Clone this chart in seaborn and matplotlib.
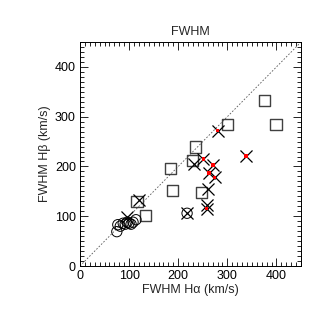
import numpy as np
import pandas as pd
import matplotlib
matplotlib.use("Agg")
import matplotlib.pyplot as plt
from matplotlib.ticker import MultipleLocator
import seaborn as sns

# Dữ liệu (km/s)
sq_ha = [375, 300, 399, 235, 229, 185, 188, 247, 116, 133]
sq_hb = [332, 285, 284, 239, 212, 196, 151, 148, 129, 101]

circ_ha = [75, 77, 82, 88, 92, 96, 100, 104, 108, 114, 218]
circ_hb = [69, 83, 80, 86, 84, 88, 86, 84, 88, 93, 106]

x_ha = [121, 233, 261, 258, 95, 218]
x_hb = [133, 205, 154, 123, 98, 106]

red_ha = [280, 251, 271, 263, 274, 338, 258]
red_hb = [272, 215, 203, 187, 178, 221, 115]

sns.set_style("white")
plt.rcParams['font.family'] = ['Liberation Sans', 'DejaVu Sans']

fig = plt.figure(figsize=(3.27, 3.27), dpi=100)
ax = fig.add_axes([0.2446, 0.1865, 0.676, 0.685])

# đường chéo 1:1
ax.plot([0, 450], [0, 450], ls=(0, (2, 2)), color='0.35', lw=0.6, zorder=1)

sns.scatterplot(x=sq_ha, y=sq_hb, marker='s', s=65, facecolor='none',
                edgecolor='0.25', linewidth=1.0, ax=ax, zorder=3)
sns.scatterplot(x=circ_ha, y=circ_hb, marker='o', s=55, facecolor='none',
                edgecolor='black', linewidth=0.7, ax=ax, zorder=3)
sns.scatterplot(x=x_ha + red_ha, y=x_hb + red_hb, marker='x', s=75,
                color='black', linewidth=0.9, ax=ax, zorder=4)
sns.scatterplot(x=red_ha, y=red_hb, marker='s', s=6, color='red',
                edgecolor='none', ax=ax, zorder=5)

ax.set_xlim(0, 450)
ax.set_ylim(0, 450)
ax.xaxis.set_major_locator(MultipleLocator(100))
ax.yaxis.set_major_locator(MultipleLocator(100))
ax.xaxis.set_minor_locator(MultipleLocator(10))
ax.yaxis.set_minor_locator(MultipleLocator(10))
ax.tick_params(which='both', direction='in', top=True, right=True,
               bottom=True, left=True, width=0.6, colors='black')
ax.tick_params(which='major', length=6, labelsize=9, pad=3)
ax.tick_params(which='minor', length=3)
for sp in ax.spines.values():
    sp.set_linewidth(0.7)
    sp.set_color('black')

ax.set_title('FWHM', fontsize=9, pad=5)
ax.set_xlabel('FWHM H\u03b1 (km/s)', fontsize=9, labelpad=1)
ax.set_ylabel('FWHM H\u03b2 (km/s)', fontsize=9, labelpad=3)

fig.savefig('out.png', dpi=100)
